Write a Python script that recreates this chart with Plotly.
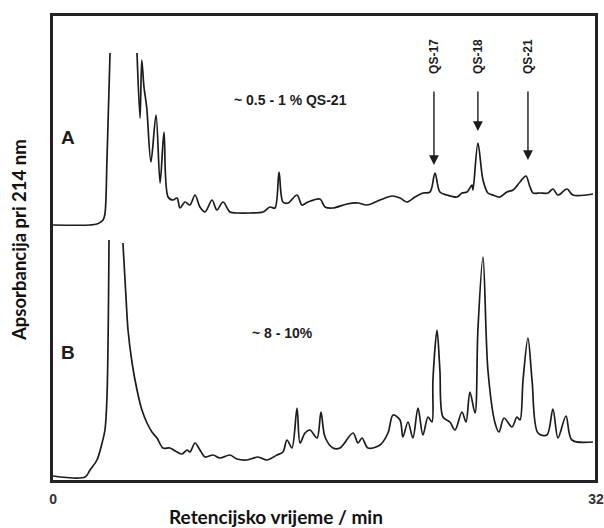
import plotly.graph_objects as go

# Retention time (min) and absorbance (arbitrary units) for chromatogram A (offset trace)
time_a = [0.00, 2.18, 2.59, 2.95, 3.06, 3.18, 3.36, None,
          4.95, 5.13, 5.23, 5.36, 5.52, 5.77, 6.07, 6.31, 6.54, 6.78, 7.07, 7.31,
          7.48, 7.78, 8.07, 8.37, 8.66, 8.96, 9.37, 9.66, 10.02, 10.43, 10.84, 11.61,
          12.37, 12.79, 13.08, 13.32, 13.55, 13.85, 14.38, 14.67, 15.03, 15.73, 16.03,
          16.50, 17.32, 17.97, 18.50, 19.27, 19.98, 20.45, 20.86, 21.33, 21.80, 22.22,
          22.51, 22.80, 23.22, 23.81, 24.10, 24.40, 24.69, 24.75, 25.04, 25.34, 25.63,
          25.93, 26.34, 26.75, 27.11, 27.52, 27.87, 28.11, 28.29, 28.70, 29.17, 29.46,
          29.76, 30.29, 30.64, 31.82]
abs_a = [25.6, 25.6, 25.7, 26.1, 26.7, 32.1, 42.8, None,
         42.8, 36.3, 42.1, 39.4, 37.4, 31.9, 36.6, 29.8, 34.9, 28.4, 28.1, 28.3,
         27.3, 27.9, 27.6, 28.6, 27.4, 26.9, 28.1, 27.1, 27.9, 26.9, 26.8, 26.8,
         26.9, 27.4, 27.3, 30.9, 27.9, 27.8, 28.6, 27.6, 27.9, 28.2, 27.4,
         27.3, 27.7, 27.8, 27.6, 28.1, 28.5, 28.3, 27.9, 28.4, 28.8, 28.9,
         30.8, 28.9, 28.6, 28.4, 28.8, 28.9, 29.6, 29.1, 33.8, 30.1, 28.8,
         28.6, 28.4, 28.9, 29.1, 29.9, 30.5, 29.4, 28.8, 28.8, 28.8, 29.2,
         28.6, 29.2, 28.6, 28.7]

# Chromatogram B
time_b = [0.00, 1.89, 2.18, 2.59, 2.89, 3.06, 3.18, 3.30, None,
          4.12, 4.30, 4.42, 4.66, 4.95, 5.24, 5.54, 5.83, 6.13, 6.48, 6.89, 7.31,
          7.60, 7.90, 8.07, 8.37, 8.66, 8.96, 9.43, 9.84, 10.43, 10.84, 11.43, 12.08,
          12.61, 13.20, 13.55, 13.79, 14.08, 14.38, 14.56, 14.85, 15.14, 15.56, 15.79,
          16.03, 16.50, 16.91, 17.68, 17.97, 18.21, 18.56, 19.27, 19.74, 20.04, 20.45,
          20.62, 20.92, 21.21, 21.51, 21.80, 22.10, 22.33, 22.39, 22.63, 22.80, 22.98,
          23.39, 23.69, 24.10, 24.34, 24.57, 24.87, 25.04, 25.34, 25.63, 26.05, 26.28,
          26.58, 27.05, 27.34, 27.52, 27.70, 27.99, 28.23, 28.58, 29.11, 29.46, 29.76,
          30.23, 30.58, 31.82]
abs_b = [0.5, 0.4, 1.1, 2.1, 3.8, 5.1, 8.4, 24.1, None,
         23.8, 18.4, 15.1, 11.8, 9.1, 7.1, 5.8, 4.9, 4.3, 3.3, 3.3, 2.9,
         2.7, 3.1, 2.9, 3.8, 3.1, 2.4, 2.6, 2.3, 2.6, 2.2, 2.1, 2.4,
         2.1, 2.6, 2.9, 4.1, 3.3, 7.3, 3.8, 4.8, 5.1, 4.3, 6.9,
         4.4, 3.3, 3.3, 4.8, 3.8, 4.3, 3.3, 3.6, 4.8, 6.6, 6.1,
         4.4, 5.9, 4.3, 7.3, 4.6, 6.4, 5.9, 10.1, 15.1, 11.1, 6.4,
         5.9, 5.1, 6.9, 5.9, 8.9, 6.8, 15.1, 22.4, 11.1, 5.8, 4.9,
         6.3, 5.4, 6.4, 6.1, 10.1, 14.3, 10.1, 4.8, 4.6, 7.2, 4.3,
         6.5, 4.1, 3.9]

peak_labels = ["QS-17", "QS-18", "QS-21"]
peak_times = [22.45, 25.04, 27.99]
arrow_tails = [39.1, 39.1, 39.1]
arrow_heads = [31.6, 35.0, 32.1]

x_tick_vals = [0, 32]
x_tick_text = ["0", "32"]

ink = "#1c1c1c"

fig = go.Figure()
for t, a in [(time_a, abs_a), (time_b, abs_b)]:
    fig.add_trace(go.Scatter(x=t, y=a, mode="lines", connectgaps=False,
                             line=dict(color=ink, width=1.7, shape="spline", smoothing=0.9),
                             showlegend=False, hoverinfo="skip"))

for lab, pt, tail, head in zip(peak_labels, peak_times, arrow_tails, arrow_heads):
    fig.add_annotation(x=pt, y=head, ax=pt, ay=tail, xref="x", yref="y",
                       axref="x", ayref="y", text="", showarrow=True,
                       arrowhead=2, arrowsize=1.4, arrowwidth=1.4, arrowcolor=ink)
    fig.add_annotation(x=pt, y=42.5, text=lab, showarrow=False, textangle=-90,
                       xanchor="center", yanchor="middle",
                       font=dict(family="Liberation Sans", size=12, color=ink, weight="bold"))

fig.add_annotation(x=13.97, y=38.1, text="~ 0.5 - 1 % QS-21", showarrow=False,
                   font=dict(family="Liberation Sans", size=14, color=ink, weight="bold"))
fig.add_annotation(x=13.55, y=14.8, text="~ 8 - 10%", showarrow=False,
                   font=dict(family="Liberation Sans", size=14, color=ink, weight="bold"))
fig.add_annotation(x=0.88, y=34.4, text="A", showarrow=False,
                   font=dict(family="Liberation Sans", size=19, color=ink, weight="bold"))
fig.add_annotation(x=0.88, y=12.9, text="B", showarrow=False,
                   font=dict(family="Liberation Sans", size=19, color=ink, weight="bold"))

# axis titles placed in paper space (pixel-matched to a 544x466 plot area)
fig.add_annotation(xref="paper", yref="paper", x=(276 - 52) / 544, y=(481 - 516) / 466,
                   xanchor="center", yanchor="middle",
                   text="Retencijsko vrijeme / min", showarrow=False,
                   font=dict(family="Lato", size=19, color="#111", weight="bold"))
fig.add_annotation(xref="paper", yref="paper", x=(19 - 52) / 544, y=(481 - 240) / 466,
                   xanchor="center", yanchor="middle",
                   text="Apsorbancija pri 214 nm", showarrow=False, textangle=-90,
                   font=dict(family="Lato", size=18.5, color="#111", weight="bold"))

# frame around the plot area
fig.add_shape(type="rect", xref="paper", yref="paper", x0=0, y0=0, x1=1, y1=1,
              line=dict(color="#222", width=2), layer="above")

axis_common = dict(automargin=False, showgrid=False, zeroline=False, showline=True,
                   mirror=True, linecolor="#222", linewidth=1.5, ticks="")

fig.update_layout(
    width=604, height=528,
    margin=dict(l=52, r=8, t=15, b=47),
    paper_bgcolor="white", plot_bgcolor="white",
    xaxis=dict(range=[-0.06, 32.0], tickvals=x_tick_vals, ticktext=x_tick_text,
               ticklabelstandoff=4,
               tickfont=dict(family="Liberation Sans", size=14, color="#333", weight="bold"),
               **axis_common),
    yaxis=dict(range=[0, 46.6], showticklabels=False, **axis_common),
)

# remove the default page margin so the figure sits at the window's top-left corner
fig.write_html("out.html", config={"displayModeBar": False},
               post_script="document.body.style.margin='0';document.body.style.overflow='hidden';")
